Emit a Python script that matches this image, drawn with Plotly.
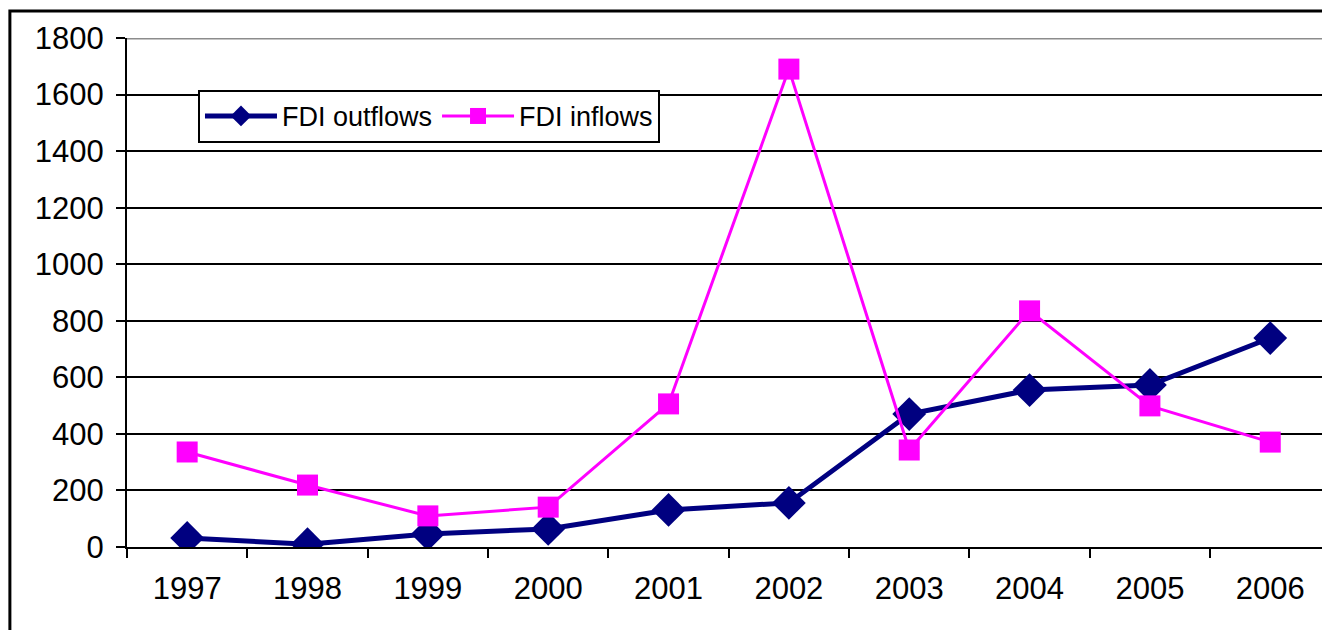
import plotly.graph_objects as go

years = ["1997", "1998", "1999", "2000", "2001", "2002", "2003", "2004", "2005", "2006"]
fdi_outflows = [32, 10, 46, 64, 131, 156, 470, 555, 573, 739]
fdi_inflows = [336, 219, 110, 141, 506, 1690, 343, 835, 499, 371]
y_ticks = [0, 200, 400, 600, 800, 1000, 1200, 1400, 1600, 1800]

FONT = "Arial, 'Liberation Sans', sans-serif"

fig = go.Figure()
fig.add_trace(go.Scatter(
    x=years, y=fdi_outflows, name="FDI outflows", mode="lines+markers",
    line=dict(color="#000080", width=5),
    marker=dict(symbol="diamond", size=26, color="#000080"),
))
fig.add_trace(go.Scatter(
    x=years, y=fdi_inflows, name="FDI inflows", mode="lines+markers",
    line=dict(color="#FF00FF", width=3),
    marker=dict(symbol="square", size=21, color="#FF00FF"),
))

fig.update_layout(
    width=1322, height=630,
    margin=dict(l=127, r=0, t=38, b=83),
    paper_bgcolor="white", plot_bgcolor="white",
    font=dict(family=FONT, size=31, color="black"),
    showlegend=True,
    legend=dict(
        orientation="h", x=0.0594, y=0.898, xanchor="left", yanchor="top",
        bgcolor="white", bordercolor="black", borderwidth=2,
        font=dict(family=FONT, size=27, color="black"),
        itemwidth=72,
    ),
    xaxis=dict(
        type="category", range=[-0.5, 9.43], tickson="boundaries",
        ticks="outside", ticklen=9, tickwidth=2, tickcolor="black",
        showline=True, linecolor="black", linewidth=2,
        showgrid=False, zeroline=False,
        tickfont=dict(family=FONT, size=31),
        ticklabelstandoff=13,
    ),
    yaxis=dict(
        range=[0, 1800], tickvals=y_ticks,
        ticks="outside", ticklen=9, tickwidth=2, tickcolor="black",
        showline=True, linecolor="black", linewidth=2,
        showgrid=True, gridcolor="black", gridwidth=2, zeroline=False,
        tickfont=dict(family=FONT, size=31),
        ticklabelstandoff=6,
    ),
    shapes=[
        dict(type="line", xref="paper", yref="y", x0=0, x1=1, y0=1800, y1=1800,
             line=dict(color="#8c8c8c", width=3), layer="above"),
        dict(type="rect", xref="paper", yref="paper",
             x0=-0.098, x1=1.05, y0=-0.3, y1=1.053,
             line=dict(color="black", width=3), fillcolor="rgba(0,0,0,0)", layer="above"),
    ],
)

fig.write_html(
    "out.html",
    config={"displayModeBar": False},
    post_script="document.body.style.margin='0';document.body.style.overflow='hidden';",
)
